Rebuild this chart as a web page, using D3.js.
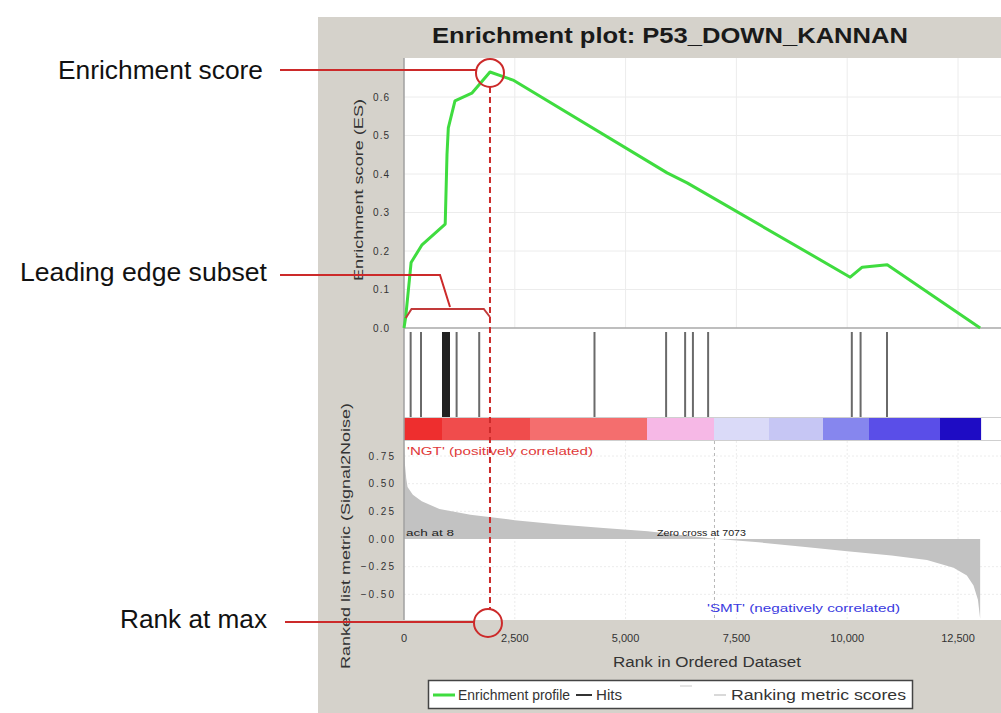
<!DOCTYPE html>
<html>
<head>
<meta charset="utf-8">
<script src="https://cdn.jsdelivr.net/npm/d3@7"></script>
<style>
  html, body { margin: 0; padding: 0; background: #ffffff; }
  svg { display: block; font-family: "Liberation Sans", Arial, sans-serif; }
</style>
</head>
<body>
<svg id="chart" width="1001" height="713"></svg>
<script>
// Running enrichment score (rank, ES)
const esRanks  = [0, 40, 160, 400, 930, 970, 1000, 1150, 1530, 1940, 2460, 5937, 6388, 10068, 10339, 10903, 13000];
const esValues = [0, 0.03, 0.17, 0.215, 0.27, 0.45, 0.52, 0.59, 0.61, 0.665, 0.644, 0.403, 0.377, 0.132, 0.158, 0.164, 0];

// Positions of gene-set members in the ranked list
const hitRanks = [150, 384, 880, 900, 920, 948, 975, 1000, 1016, 1187, 1697, 4298, 5914, 6343, 6519, 6862, 10104, 10302, 10898];

// Ranked list metric (Signal2Noise)
const metricRanks  = [0, 8, 20, 50, 80, 200, 400, 800, 1500, 2500, 3500, 4500, 5500, 6300, 7073, 8000, 9000, 10000, 11000, 11800, 12400, 12700, 12850, 12950, 13000];
const metricValues = [0.88, 0.78, 0.68, 0.55, 0.47, 0.40, 0.34, 0.27, 0.22, 0.17, 0.13, 0.10, 0.07, 0.035, 0, -0.03, -0.07, -0.11, -0.15, -0.19, -0.26, -0.33, -0.42, -0.55, -0.72];

// Heat bar segments along the ranked list
const barBreaks = [0, 857, 2843, 5483, 6995, 8236, 9454, 10492, 12094, 13010];
const barColors = ["#ee2e2e", "#f04c4c", "#f46e6e", "#f6b8e6", "#dadaf8", "#c6c6f4", "#8686ee", "#5a4ee8", "#1e0cc4"];

// Tick labels
const esTicks = [0.0, 0.1, 0.2, 0.3, 0.4, 0.5, 0.6];
const metricTicks = [0.75, 0.50, 0.25, 0.00, -0.25, -0.50];
const rankTicks = [0, 2500, 5000, 7500, 10000, 12500];

const peakRank = 1940;
const zeroCross = 7073;

const svg = d3.select("#chart");

// Scales
const x = d3.scaleLinear().domain([0, 12500]).range([404, 958]);
const yES = d3.scaleLinear().domain([0, 0.6]).range([328, 97]);
const yM = d3.scaleLinear().domain([0, 0.75]).range([539, 456]);

const plotLeft = 404, plotRight = 1010, plotTop = 58, plotBottom = 620;

// Grey frame
svg.append("rect").attr("x", 318).attr("y", 17).attr("width", 700).attr("height", 700).attr("fill", "#d5d2cb");
svg.append("rect").attr("x", plotLeft).attr("y", plotTop).attr("width", plotRight - plotLeft).attr("height", plotBottom - plotTop).attr("fill", "#ffffff");

// Title
svg.append("text").attr("x", 432).attr("y", 43)
  .attr("font-size", 22).attr("font-weight", "bold").attr("fill", "#1a1a1a")
  .attr("textLength", 476).attr("lengthAdjust", "spacingAndGlyphs")
  .text("Enrichment plot: P53_DOWN_KANNAN");

// Grid lines
const grid = svg.append("g").attr("stroke", "#ececec").attr("stroke-width", 1);
rankTicks.slice(1).forEach(t => {
  grid.append("line").attr("x1", x(t)).attr("x2", x(t)).attr("y1", plotTop).attr("y2", 328);
  grid.append("line").attr("x1", x(t)).attr("x2", x(t)).attr("y1", 441).attr("y2", plotBottom).attr("stroke-dasharray", "2,2");
});
esTicks.slice(1).forEach(t => {
  grid.append("line").attr("x1", plotLeft).attr("x2", plotRight).attr("y1", yES(t)).attr("y2", yES(t));
});
metricTicks.filter(t => t !== 0).forEach(t => {
  grid.append("line").attr("x1", plotLeft).attr("x2", plotRight).attr("y1", yM(t)).attr("y2", yM(t)).attr("stroke-dasharray", "2,2");
});

// ES panel baseline
svg.append("line").attr("x1", plotLeft).attr("x2", plotRight).attr("y1", yES(0)).attr("y2", yES(0))
  .attr("stroke", "#a8a8a8").attr("stroke-width", 1.5);

// Hits
svg.append("g").selectAll("line").data(hitRanks).join("line")
  .attr("x1", d => x(d)).attr("x2", d => x(d))
  .attr("y1", 332).attr("y2", 417)
  .attr("stroke", d => (d >= 880 && d <= 1016) ? "#222" : "#6a6a6a")
  .attr("stroke-width", 2);

// Heat bar
svg.append("line").attr("x1", plotLeft).attr("x2", plotRight).attr("y1", 417.5).attr("y2", 417.5).attr("stroke", "#cfcfcf");
svg.append("line").attr("x1", plotLeft).attr("x2", plotRight).attr("y1", 440.5).attr("y2", 440.5).attr("stroke", "#cfcfcf");
svg.append("g").selectAll("rect").data(barColors).join("rect")
  .attr("x", (d, i) => x(barBreaks[i]))
  .attr("width", (d, i) => x(barBreaks[i + 1]) - x(barBreaks[i]) + 0.5)
  .attr("y", 418).attr("height", 22)
  .attr("fill", d => d);

// Ranked metric area
const metricPts = metricRanks.map((r, i) => [r, metricValues[i]]);
svg.append("path").datum(metricPts)
  .attr("fill", "#c2c2c2")
  .attr("d", d3.area().x(d => x(d[0])).y0(yM(0)).y1(d => yM(d[1])));

// Zero-cross marker
svg.append("line").attr("x1", x(zeroCross) - 3).attr("x2", x(zeroCross) - 3).attr("y1", 441).attr("y2", plotBottom)
  .attr("stroke", "#b8b8b8").attr("stroke-dasharray", "3,3");

// Plot left border
svg.append("line").attr("x1", plotLeft).attr("x2", plotLeft).attr("y1", plotTop).attr("y2", plotBottom)
  .attr("stroke", "#a0a0a0").attr("stroke-width", 1.5);

// In-plot labels
svg.append("text").attr("x", 407).attr("y", 455).attr("font-size", 10).attr("fill", "#e03a3a")
  .attr("textLength", 186).attr("lengthAdjust", "spacingAndGlyphs")
  .text("'NGT' (positively correlated)");
svg.append("text").attr("x", 707).attr("y", 612).attr("font-size", 10).attr("fill", "#3a3ae0")
  .attr("textLength", 193).attr("lengthAdjust", "spacingAndGlyphs")
  .text("'SMT' (negatively correlated)");
svg.append("text").attr("x", 657).attr("y", 536).attr("font-size", 9).attr("fill", "#222")
  .attr("textLength", 89).attr("lengthAdjust", "spacingAndGlyphs")
  .text("Zero cross at " + zeroCross);
svg.append("text").attr("x", 406).attr("y", 536).attr("font-size", 9).attr("fill", "#222")
  .attr("textLength", 48).attr("lengthAdjust", "spacingAndGlyphs")
  .text("ach at 8");

// ES curve
const esPts = esRanks.map((r, i) => [r, esValues[i]]);
svg.append("path").datum(esPts)
  .attr("fill", "none").attr("stroke", "#3fdc3f").attr("stroke-width", 3).attr("stroke-linejoin", "round")
  .attr("d", d3.line().x(d => x(d[0])).y(d => yES(d[1])));

// Axes: tick labels
const tickFill = "#333";
svg.append("g").selectAll("text").data(esTicks).join("text")
  .attr("x", 390).attr("y", d => yES(d) + 3.5).attr("text-anchor", "end")
  .attr("font-size", 10).attr("fill", tickFill).attr("letter-spacing", 1)
  .text(d => d3.format(".1f")(d));
svg.append("g").selectAll("text").data(metricTicks).join("text")
  .attr("x", 396).attr("y", d => yM(d) + 3.5).attr("text-anchor", "end")
  .attr("font-size", 10).attr("fill", tickFill).attr("letter-spacing", 2)
  .text(d => d3.format(".2f")(d));
svg.append("g").selectAll("text").data(rankTicks).join("text")
  .attr("x", d => x(d)).attr("y", 642).attr("text-anchor", "middle")
  .attr("font-size", 11).attr("fill", tickFill)
  .text(d => d3.format(",")(d));

// Axis titles
svg.append("text").attr("transform", "translate(363,190) rotate(-90)").attr("text-anchor", "middle")
  .attr("font-size", 13).attr("fill", "#333")
  .attr("textLength", 182).attr("lengthAdjust", "spacingAndGlyphs")
  .text("Enrichment score (ES)");
svg.append("text").attr("transform", "translate(350,536) rotate(-90)").attr("text-anchor", "middle")
  .attr("font-size", 13).attr("fill", "#333")
  .attr("textLength", 266).attr("lengthAdjust", "spacingAndGlyphs")
  .text("Ranked list metric (Signal2Noise)");
svg.append("text").attr("x", 707).attr("y", 667).attr("text-anchor", "middle")
  .attr("font-size", 14).attr("fill", "#333")
  .attr("textLength", 188).attr("lengthAdjust", "spacingAndGlyphs")
  .text("Rank in Ordered Dataset");

// Legend
const lg = svg.append("g");
lg.append("rect").attr("x", 428.5).attr("y", 680.5).attr("width", 484).attr("height", 28)
  .attr("fill", "#ffffff").attr("stroke", "#444").attr("stroke-width", 1.5);
lg.append("line").attr("x1", 433).attr("x2", 455).attr("y1", 695).attr("y2", 695).attr("stroke", "#3fdc3f").attr("stroke-width", 3);
lg.append("text").attr("x", 458).attr("y", 700).attr("font-size", 14).attr("fill", "#333")
  .attr("textLength", 112).attr("lengthAdjust", "spacingAndGlyphs").text("Enrichment profile");
lg.append("line").attr("x1", 576).attr("x2", 592).attr("y1", 695).attr("y2", 695).attr("stroke", "#333").attr("stroke-width", 2);
lg.append("text").attr("x", 596).attr("y", 700).attr("font-size", 14).attr("fill", "#333")
  .attr("textLength", 26).attr("lengthAdjust", "spacingAndGlyphs").text("Hits");
lg.append("line").attr("x1", 680).attr("x2", 692).attr("y1", 686).attr("y2", 686).attr("stroke", "#e4e4e4").attr("stroke-width", 2);
lg.append("line").attr("x1", 714).attr("x2", 726).attr("y1", 695).attr("y2", 695).attr("stroke", "#cccccc").attr("stroke-width", 1.5);
lg.append("text").attr("x", 731).attr("y", 700).attr("font-size", 14).attr("fill", "#333")
  .attr("textLength", 175).attr("lengthAdjust", "spacingAndGlyphs").text("Ranking metric scores");

// Callouts
const red = "#cc2a2a";
const ann = svg.append("g").attr("fill", "none").attr("stroke", red).attr("stroke-width", 2);
const peakX = x(peakRank), peakY = yES(d3.max(esValues));
ann.append("line").attr("x1", 280).attr("x2", peakX - 13).attr("y1", 70).attr("y2", 70);
ann.append("circle").attr("cx", peakX).attr("cy", peakY + 1).attr("r", 14);
ann.append("line").attr("x1", peakX).attr("x2", peakX).attr("y1", peakY + 15).attr("y2", 609)
  .attr("stroke-dasharray", "6,4");
ann.append("circle").attr("cx", peakX - 2).attr("cy", 623).attr("r", 14);
ann.append("line").attr("x1", 285).attr("x2", peakX - 16).attr("y1", 622).attr("y2", 622);
ann.append("polyline").attr("points", "280,275 440,275 450,307");
ann.append("polyline").attr("stroke", "#c23a3a")
  .attr("points", `${x(40)},318 ${x(170)},309 ${x(1800)},309 ${peakX},317`);

const labels = svg.append("g").attr("font-size", 25).attr("fill", "#111").attr("text-anchor", "end");
labels.append("text").attr("x", 263).attr("y", 79).attr("textLength", 205).attr("lengthAdjust", "spacingAndGlyphs").text("Enrichment score");
labels.append("text").attr("x", 267).attr("y", 281).attr("textLength", 247).attr("lengthAdjust", "spacingAndGlyphs").text("Leading edge subset");
labels.append("text").attr("x", 267).attr("y", 628).attr("textLength", 147).attr("lengthAdjust", "spacingAndGlyphs").text("Rank at max");
</script>
</body>
</html>
